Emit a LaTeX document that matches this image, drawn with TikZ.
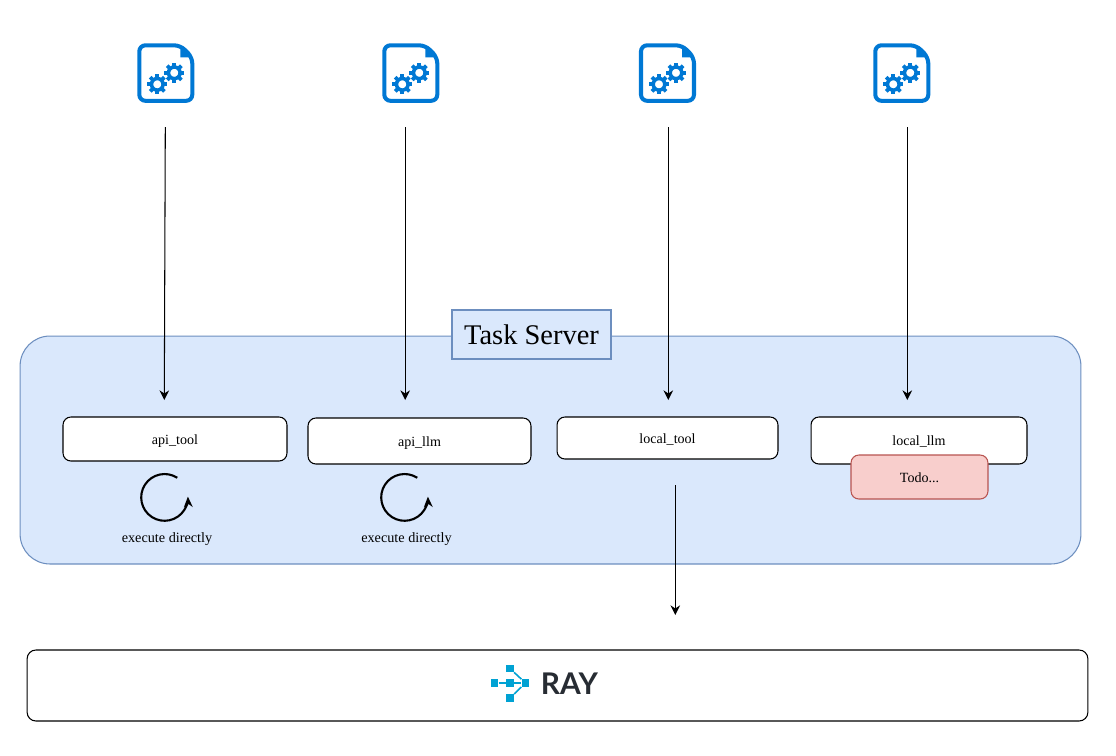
\documentclass[tikz,border=0pt]{standalone}
\usepackage{fontspec}
\setmainfont{Liberation Serif}
\newfontfamily\rayfont{Lato}
\usetikzlibrary{arrows.meta}
\definecolor{panelfill}{HTML}{DAE8FC}
\definecolor{paneldraw}{HTML}{6C8EBF}
\definecolor{todofill}{HTML}{F8CECC}
\definecolor{tododraw}{HTML}{B85450}
\definecolor{iconblue}{HTML}{0078D4}
\definecolor{rayblue}{HTML}{00A2D3}
\definecolor{raytext}{HTML}{272C33}
\tikzset{
	taskbox/.style={draw,fill=white,line width=0.6pt,rounded corners=4.5pt,font=\fontsize{8}{9.6}\selectfont,inner sep=0pt,text height=7.6pt,text depth=1.7pt},
	raysquare/.style={fill=rayblue,minimum size=0.15cm,inner sep=0pt},
	gearshape/.pic={
		\draw[iconblue,line width=2pt] (0,0) circle[radius=3.3pt];
		\foreach \a in {0,45,...,315}
			\fill[iconblue,rotate=\a] (-1.9,5.5) rectangle (1.9,10);
	},
	configicon/.pic={
		\draw[iconblue,line width=2.3pt,rounded corners=3.5pt] (0,0) -- (41,0) -- (53,12) -- (53,55.5) -- (0,55.5) -- cycle;
		\fill[iconblue] (41,0) -- (41,12) -- (53,12) -- cycle;
		\pic at (18,39) {gearshape};
		\pic at (35,27.5) {gearshape};
	},
	looparrow/.pic={
		\draw[line width=1.2pt,-{Stealth[length=6pt,width=5pt]}] (0,0) arc[start angle=57,end angle=362,radius=13.3pt];
	},
}
\begin{document}
\begin{tikzpicture}[x=0.02cm,y=-0.02cm,>/.tip={Stealth[length=5.5pt,width=5.5pt]}]
	\useasboundingbox (0,0) rectangle (1116,755);
	\draw (550.5,450) node (server) [draw=paneldraw,fill=panelfill,line width=0.6pt,rounded corners=17pt,minimum width=21.22cm,minimum height=4.56cm] {};
	\draw (531.5,334.5) node (title) [draw=paneldraw,fill=panelfill,line width=0.6pt,minimum width=3.18cm,minimum height=0.98cm,inner sep=0pt,font=\fontsize{16.2}{19}\selectfont] {Task Server};

	\draw (175,439) node (apitool) [taskbox,minimum width=4.48cm,minimum height=0.88cm] {api\_tool};
	\draw (419.5,441) node (apillm) [taskbox,minimum width=4.46cm,minimum height=0.92cm] {api\_llm};
	\draw (667.5,438) node (localtool) [taskbox,minimum width=4.42cm,minimum height=0.84cm] {local\_tool};
	\draw (919,440.5) node (localllm) [taskbox,minimum width=4.32cm,minimum height=0.94cm] {local\_llm};
	\draw (919.5,477) node (todo) [taskbox,draw=tododraw,fill=todofill,minimum width=2.74cm,minimum height=0.88cm] {Todo...};

	% icons on top
	\pic at (139.3,45.3) {configicon};
	\pic at (384.3,45.3) {configicon};
	\pic at (641,45.3) {configicon};
	\pic at (875.3,45.3) {configicon};

	% arrows into the server
	\coordinate (a1) at (165.3,127);
	\coordinate (a2) at (164.3,400);
	\coordinate (b1) at (405.2,127);
	\coordinate (b2) at (405.2,400);
	\coordinate (c1) at (668.3,127);
	\coordinate (c2) at (668.3,400);
	\coordinate (d1) at (907.3,127);
	\coordinate (d2) at (907.3,400);
	\coordinate (e1) at (675.3,485);
	\coordinate (e2) at (675.3,615);
	\draw[->,line width=0.6pt] (a1) -- (a2);
	\draw[->,line width=0.6pt] (b1) -- (b2);
	\draw[->,line width=0.6pt] (c1) -- (c2);
	\draw[->,line width=0.6pt] (d1) -- (d2);
	\draw[->,line width=0.6pt] (e1) -- (e2);

	% direct execution
	\pic at (177.3,477.8) {looparrow};
	\pic at (417.3,477.8) {looparrow};
	\draw (167,539) node (exec1) [font=\fontsize{8.1}{9.6}\selectfont] {execute directly};
	\draw (406.5,539) node (exec2) [font=\fontsize{8.1}{9.6}\selectfont] {execute directly};

	% ray
	\draw (557.5,685.5) node (ray) [draw,fill=white,line width=0.6pt,rounded corners=5pt,minimum width=21.22cm,minimum height=1.42cm] {};
	\draw (494.5,683) node (rayleft) [raysquare] {};
	\draw (510,683) node (raymid) [raysquare] {};
	\draw (525.5,683) node (rayright) [raysquare] {};
	\draw (510,668.5) node (raytop) [raysquare] {};
	\draw (510,698) node (raybot) [raysquare] {};
	\draw[rayblue,line width=0.9pt] (rayleft) -- (rayright);
	\draw[rayblue,line width=0.9pt] (raytop) -- (rayright);
	\draw[rayblue,line width=0.9pt] (raybot) -- (rayright);
	\draw (569.5,684) node (raylabel) [text=raytext,inner sep=0pt,font=\rayfont\bfseries\fontsize{17}{20}\selectfont] {RAY};
\end{tikzpicture}
\end{document}
